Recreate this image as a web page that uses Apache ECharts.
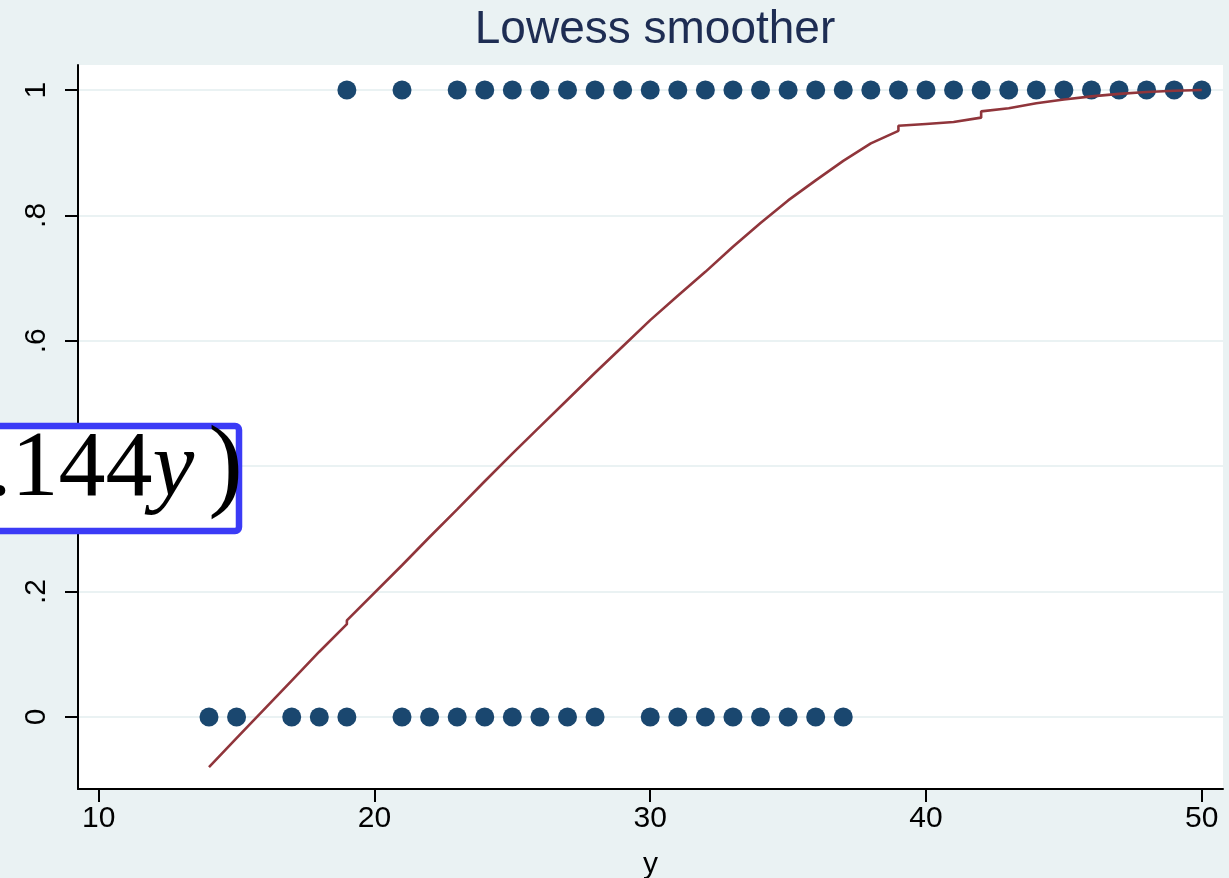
<!DOCTYPE html>
<html>
<head>
<meta charset="utf-8">
<title>Lowess smoother</title>
<script src="https://cdn.jsdelivr.net/npm/echarts@6/dist/echarts.min.js"></script>
<style>
  html, body { margin: 0; padding: 0; background: #eaf2f3; }
  #chart { width: 1229px; height: 878px; }
</style>
</head>
<body>
<div id="chart"></div>
<script>
// observations with outcome 0 and outcome 1
const zeroX = [14, 15, 17, 18, 19, 21, 22, 23, 24, 25, 26, 27, 28, 30, 31, 32, 33, 34, 35, 36, 37];
const oneX  = [19, 21, 23, 24, 25, 26, 27, 28, 29, 30, 31, 32, 33, 34, 35, 36, 37, 38, 39, 40,
               41, 42, 43, 44, 45, 46, 47, 48, 49, 50];

// lowess fitted values (ties give the small steps)
const lowessX = [14, 15, 17, 18, 19, 19, 21, 22, 23, 24, 25, 26, 27, 28, 29, 30, 31, 32, 33, 34,
                 35, 36, 37, 38, 39, 39, 40, 41, 42, 42, 43, 44, 45, 46, 47, 48, 49, 50];
const lowessY = [-0.080, -0.034, 0.058, 0.104, 0.148, 0.154, 0.242, 0.287, 0.331, 0.376, 0.420,
                 0.463, 0.506, 0.549, 0.591, 0.633, 0.672, 0.710, 0.750, 0.788, 0.824, 0.856,
                 0.887, 0.915, 0.935, 0.943, 0.946, 0.949, 0.956, 0.966, 0.971, 0.979, 0.985,
                 0.990, 0.994, 0.997, 0.999, 1.000];

const xTicks = [10, 20, 30, 40, 50];
const yTicks = [0, 0.2, 0.4, 0.6, 0.8, 1];
const yTickLabels = ['0', '.2', '.4', '.6', '.8', '1'];

const COLORS = { bg: '#eaf2f3', grid: '#eaf2f3', marker: '#1a476f', line: '#90353b', title: '#1e2d53', axis: '#000' };
const FONT = 'Liberation Sans, Arial, sans-serif';

const chart = echarts.init(document.getElementById('chart'), null, { renderer: 'canvas' });

chart.setOption({
  backgroundColor: COLORS.bg,
  animation: false,
  title: {
    text: 'Lowess smoother',
    left: 650,
    textAlign: 'center',
    top: 2,
    textStyle: { fontFamily: FONT, fontSize: 46, fontWeight: 'normal', color: COLORS.title },
  },
  grid: {
    left: 78, right: 6, top: 65, bottom: 89, outerBoundsMode: 'none', containLabel: false,
    show: true, backgroundColor: '#fff', borderWidth: 0,
  },
  xAxis: {
    type: 'value', min: 9.25, max: 50.77,
    name: 'y', nameLocation: 'middle', nameGap: 61,
    nameTextStyle: { fontFamily: FONT, fontSize: 30, color: '#000' },
    axisLine: { onZero: false, lineStyle: { color: COLORS.axis, width: 2 } },
    axisTick: { length: 13, lineStyle: { color: COLORS.axis, width: 2 }, customValues: xTicks },
    axisLabel: { fontFamily: FONT, fontSize: 30, color: '#000', margin: 15, customValues: xTicks },
    splitLine: { show: false },
  },
  yAxis: {
    type: 'value', min: -0.115, max: 1.04,
    axisLine: { show: true, onZero: false, lineStyle: { color: COLORS.axis, width: 2 } },
    axisTick: { show: true, length: 13, lineStyle: { color: COLORS.axis, width: 2 }, customValues: yTicks },
    axisLabel: {
      fontFamily: FONT, fontSize: 30, color: '#000', margin: 26, rotate: 90, customValues: yTicks,
      formatter: (v) => yTickLabels[yTicks.findIndex((t) => Math.abs(t - v) < 1e-6)] ?? '',
    },
    splitLine: { show: true, lineStyle: { color: COLORS.grid, width: 2 } },
  },
  series: [
    {
      type: 'scatter', symbol: 'circle', symbolSize: 19, z: 2,
      itemStyle: { color: COLORS.marker, opacity: 1 },
      data: zeroX.map((x) => [x, 0]).concat(oneX.map((x) => [x, 1])),
    },
    {
      type: 'line', symbol: 'none', z: 3,
      lineStyle: { color: COLORS.line, width: 2.6 },
      data: lowessX.map((x, i) => [x, lowessY[i]]),
    },
  ],
  graphic: [
    {
      type: 'rect', z: 100,
      shape: { x: -20, y: 426, width: 259, height: 105, r: 4 },
      style: { fill: '#fff', stroke: '#3b3bf6', lineWidth: 6.5 },
    },
    {
      type: 'text', z: 101, x: -12, y: 470,
      style: {
        text: '{n|.144}{v|y}{p|)}',
        verticalAlign: 'middle',
        rich: {
          n: { fontFamily: 'Liberation Serif, serif', fontSize: 94, fill: '#000' },
          v: { fontFamily: 'Liberation Serif, serif', fontSize: 94, fontStyle: 'italic', fill: '#000' },
          p: { fontFamily: 'Liberation Serif, serif', fontSize: 104, fill: '#000', padding: [0, 0, 0, 14] },
        },
      },
    },
  ],
});
</script>
</body>
</html>
